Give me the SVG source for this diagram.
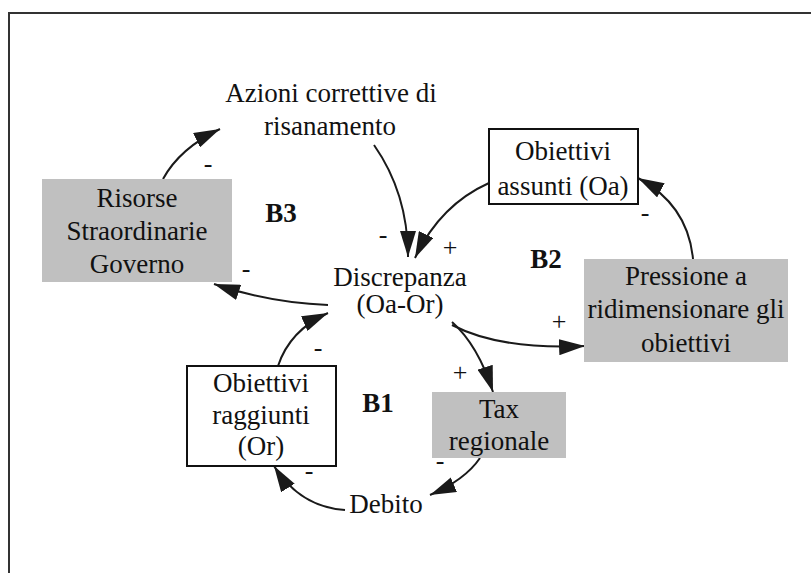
<svg xmlns="http://www.w3.org/2000/svg" width="811" height="573" viewBox="0 0 811 573">
<defs>
<marker id="ah" markerUnits="userSpaceOnUse" markerWidth="26" markerHeight="16" refX="26" refY="8" orient="auto">
<path d="M0,0 L26,8 L0,16 z" fill="#1a1a1a"/>
</marker>
<style>
text{font-family:"Liberation Serif","Times New Roman",serif;fill:#111;}
.n{font-size:27px;text-anchor:middle;}
.b{font-size:27px;font-weight:bold;text-anchor:middle;}
.s{font-size:26px;text-anchor:middle;}
.gray{fill:#c0c0c0;stroke:none;}
.white{fill:#fff;stroke:#111;stroke-width:2;}
.e{fill:none;stroke:#1a1a1a;stroke-width:2;marker-end:url(#ah);}
</style>
</defs>
<rect width="811" height="573" fill="#fff"/>
<polyline points="9,573 9,13 811,13" fill="none" stroke="#333" stroke-width="2"/>

<g id="connectors">
<path class="e" d="M163,179 Q180,148 220,129"/>
<path class="e" d="M374,145 C395,175 408,210 408,257"/>
<path class="e" d="M489,183 Q440,205 415,258"/>
<path class="e" d="M693,259 Q688,205 638,178"/>
<path class="e" d="M452,325 Q500,350 585,346"/>
<path class="e" d="M452,322 Q478,345 493,392"/>
<path class="e" d="M328,305 Q270,303 214,284"/>
<path class="e" d="M278,366 Q290,330 328,313"/>
<path class="e" d="M480,458 Q465,480 430,495"/>
<path class="e" d="M345,510 Q300,507 274,466"/>
<text class="s" x="208" y="172">-</text>
<text class="s" x="383" y="243">-</text>
<text class="s" x="450" y="256">+</text>
<text class="s" x="645" y="221">-</text>
<text class="s" x="559" y="330">+</text>
<text class="s" x="460" y="381">+</text>
<text class="s" x="246" y="277">-</text>
<text class="s" x="318" y="356">-</text>
<text class="s" x="440" y="469">-</text>
<text class="s" x="309" y="479">-</text>
</g>

<g id="azioni">
<text class="n" x="331" y="102">Azioni correttive di</text>
<text class="n" x="330" y="135">risanamento</text>
</g>

<g id="risorse">
<rect class="gray" x="42" y="179" width="190" height="103"/>
<text class="n" x="137" y="207">Risorse</text>
<text class="n" x="137" y="240">Straordinarie</text>
<text class="n" x="137" y="273">Governo</text>
</g>

<g id="obiettivi-assunti">
<rect class="white" x="489" y="129" width="149" height="75"/>
<text class="n" x="563" y="160">Obiettivi</text>
<text class="n" x="563" y="195">assunti (Oa)</text>
</g>

<g id="pressione">
<rect class="gray" x="584" y="259" width="204" height="103"/>
<text class="n" x="686" y="285">Pressione a</text>
<text class="n" x="686" y="318">ridimensionare gli</text>
<text class="n" x="686" y="352">obiettivi</text>
</g>

<g id="discrepanza">
<text class="n" x="400" y="286">Discrepanza</text>
<text class="n" x="400" y="313">(Oa-Or)</text>
</g>

<g id="tax">
<rect class="gray" x="432" y="392" width="134" height="66"/>
<text class="n" x="499" y="418">Tax</text>
<text class="n" x="499" y="450">regionale</text>
</g>

<g id="obiettivi-raggiunti">
<rect class="white" x="187" y="366" width="149" height="100"/>
<text class="n" x="261" y="392">Obiettivi</text>
<text class="n" x="261" y="424">raggiunti</text>
<text class="n" x="261" y="455">(Or)</text>
</g>

<g id="debito">
<text class="n" x="386" y="513">Debito</text>
</g>

<g id="loops">
<text class="b" x="281" y="222">B3</text>
<text class="b" x="546" y="268">B2</text>
<text class="b" x="378" y="412">B1</text>
</g>
</svg>
